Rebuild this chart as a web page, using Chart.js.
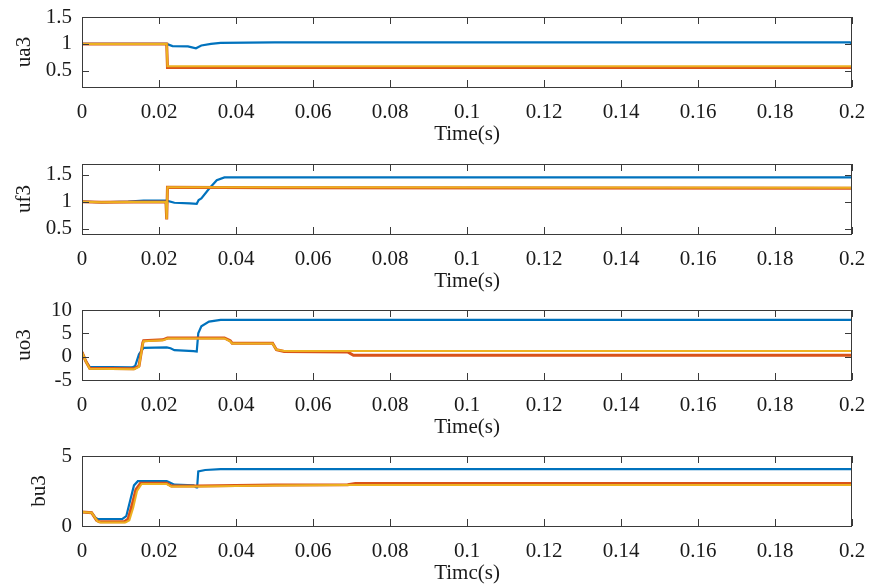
<!DOCTYPE html>
<html>
<head>
<meta charset="utf-8">
<script src="https://cdn.jsdelivr.net/npm/chart.js@4.4.1/dist/chart.umd.min.js"></script>
<style>
  body { margin: 0; background: #fff; }
  .panel { position: absolute; left: 0; width: 870px; height: 144px; }
</style>
</head>
<body>
<div class="panel" style="top:3px"><canvas id="ua3"></canvas></div>
<div class="panel" style="top:150px"><canvas id="uf3"></canvas></div>
<div class="panel" style="top:296px"><canvas id="uo3"></canvas></div>
<div class="panel" style="top:442px"><canvas id="bu3"></canvas></div>
<script>
// x axis ticks shared by every panel
const timeTicks = [0, 0.02, 0.04, 0.06, 0.08, 0.1, 0.12, 0.14, 0.16, 0.18, 0.2];

// ua3
const uaBlueT = [0, 0.022, 0.0235, 0.0275, 0.0296, 0.031, 0.0335, 0.036, 0.05, 0.1995, 0.2];
const uaBlue  = [1.0, 1.0, 0.96, 0.955, 0.92, 0.97, 1.0, 1.02, 1.03, 1.03, 1.0];
const uaRedT  = [0, 0.022, 0.0222, 0.2];
const uaRed   = [1.0, 1.0, 0.56, 0.56];
const uaYelT  = [0, 0.022, 0.0222, 0.2];
const uaYel   = [1.0, 1.0, 0.585, 0.585];
const uaTicks = [0.5, 1, 1.5];

// uf3
const ufBlueT = [0, 0.005, 0.012, 0.016, 0.022, 0.024, 0.028, 0.0298, 0.0303, 0.031, 0.033, 0.035, 0.037, 0.2];
const ufBlue  = [1.0, 0.99, 1.0, 1.02, 1.02, 0.98, 0.97, 0.96, 1.03, 1.06, 1.24, 1.4, 1.45, 1.45];
const ufRedT  = [0, 0.005, 0.0218, 0.022, 0.0222, 0.05, 0.2];
const ufRed   = [1.0, 0.99, 1.0, 0.67, 1.27, 1.26, 1.25];
const ufYelT  = [0, 0.005, 0.0218, 0.022, 0.0222, 0.05, 0.2];
const ufYel   = [1.0, 0.99, 1.0, 0.68, 1.27, 1.27, 1.26];
const ufTicks = [0.5, 1, 1.5];

// uo3
const uoBlueT = [0, 0.001, 0.002, 0.013, 0.0138, 0.0148, 0.016, 0.022, 0.023, 0.024, 0.029, 0.0298, 0.0302, 0.031, 0.033, 0.036, 0.2];
const uoBlue  = [1.0, -1.0, -2.2, -2.3, -2.0, 0.5, 1.9, 2.0, 1.8, 1.4, 1.2, 1.1, 5.0, 6.5, 7.5, 7.9, 7.9];
const uoRedT  = [0, 0.001, 0.002, 0.0135, 0.0148, 0.0158, 0.016, 0.021, 0.0222, 0.037, 0.0385, 0.039, 0.0495, 0.0505, 0.0525, 0.069, 0.0705, 0.2];
const uoRed   = [1.0, -1.0, -2.5, -2.6, -2.0, 3.0, 3.4, 3.6, 4.0, 4.0, 3.4, 2.9, 2.9, 1.5, 1.1, 1.0, 0.3, 0.3];
const uoYelT  = [0, 0.001, 0.002, 0.0135, 0.0148, 0.0158, 0.016, 0.021, 0.0222, 0.037, 0.0385, 0.039, 0.0495, 0.0505, 0.0525, 0.2];
const uoYel   = [1.0, -1.0, -2.6, -2.7, -2.2, 2.8, 3.3, 3.5, 3.9, 3.9, 3.3, 2.8, 2.8, 1.5, 1.2, 1.2];
const uoTicks = [-5, 0, 5, 10];

// bu3
const buBlueT = [0, 0.0025, 0.0035, 0.004, 0.0105, 0.0115, 0.0125, 0.0135, 0.0145, 0.022, 0.0228, 0.024, 0.029, 0.0297, 0.0299, 0.0302, 0.032, 0.036, 0.2];
const buBlue  = [1.0, 0.95, 0.6, 0.5, 0.5, 0.7, 1.8, 2.9, 3.2, 3.2, 3.1, 2.95, 2.9, 2.75, 2.75, 3.9, 4.0, 4.06, 4.06];
const buRedT  = [0, 0.0025, 0.0038, 0.0045, 0.011, 0.012, 0.013, 0.014, 0.0152, 0.022, 0.0232, 0.03, 0.05, 0.069, 0.071, 0.2];
const buRed   = [1.0, 0.95, 0.4, 0.3, 0.3, 0.5, 1.5, 2.6, 3.05, 3.05, 2.85, 2.85, 2.92, 2.95, 3.04, 3.04];
const buYelT  = [0, 0.0025, 0.004, 0.0048, 0.0113, 0.0123, 0.0133, 0.0143, 0.0155, 0.022, 0.0232, 0.03, 0.05, 0.069, 0.071, 0.2];
const buYel   = [1.0, 0.95, 0.35, 0.25, 0.25, 0.4, 1.3, 2.5, 3.0, 3.0, 2.82, 2.83, 2.9, 2.92, 2.92, 2.92];
const buTicks = [0, 5];

const BLUE = '#0072BD', RED = '#D95319', YELLOW = '#EDB120';
const FONT = { family: '"Liberation Serif", "Times New Roman", serif', size: 21 };
const INK = '#1a1a1a';

const toPoints = (t, v) => t.map((x, i) => ({ x: x, y: v[i] }));

// MATLAB style box with inward tick marks on all four sides
const boxPlugin = {
  id: 'box',
  afterDatasetsDraw(chart) {
    const { ctx, chartArea: a, scales: { x, y } } = chart;
    const len = 7;
    ctx.save();
    ctx.strokeStyle = '#3a3a3a';
    ctx.lineWidth = 1;
    ctx.beginPath();
    x.ticks.forEach(t => {
      const px = Math.round(x.getPixelForValue(t.value)) + 0.5;
      ctx.moveTo(px, a.bottom); ctx.lineTo(px, a.bottom - len);
      ctx.moveTo(px, a.top); ctx.lineTo(px, a.top + len);
    });
    y.ticks.forEach(t => {
      const py = Math.round(y.getPixelForValue(t.value)) + 0.5;
      ctx.moveTo(a.left, py); ctx.lineTo(a.left + len, py);
      ctx.moveTo(a.right, py); ctx.lineTo(a.right - len, py);
    });
    ctx.stroke();
    ctx.strokeRect(Math.round(a.left) + 0.5, Math.round(a.top) + 0.5, Math.round(a.width) - 1, Math.round(a.height));
    ctx.restore();
  }
};

function makePanel(id, series, yMin, yMax, yTicks, yTitle, yTitlePad, xTitle) {
  const sets = series.map(s => ({
    data: toPoints(s.t, s.v),
    borderColor: s.color,
    borderWidth: s.width,
    order: s.order,
    pointRadius: 0,
    tension: 0,
    fill: false
  }));
  new Chart(document.getElementById(id), {
    type: 'line',
    data: { datasets: sets },
    options: {
      responsive: true,
      maintainAspectRatio: false,
      animation: false,
      layout: { padding: { top: 14, right: 18, left: 0, bottom: 0 } },
      plugins: { legend: { display: false }, tooltip: { enabled: false } },
      scales: {
        x: {
          type: 'linear',
          min: 0,
          max: 0.2,
          grid: { display: false, drawTicks: false },
          border: { display: false },
          afterBuildTicks: s => { s.ticks = timeTicks.map(v => ({ value: v })); },
          // fixed size, and no extra room for labels hanging past the ends
          afterFit: s => { s.height = 60; s.paddingLeft = 0; s.paddingRight = 0; },
          ticks: { color: INK, font: FONT, padding: 13, maxRotation: 0, autoSkip: false, callback: v => String(v) },
          title: { display: true, text: xTitle, color: INK, font: FONT, padding: { top: 0, bottom: 0 } }
        },
        y: {
          min: yMin,
          max: yMax,
          grid: { display: false, drawTicks: false },
          border: { display: false },
          afterBuildTicks: s => { s.ticks = yTicks.map(v => ({ value: v })); },
          afterFit: s => { s.width = 82; s.paddingTop = 0; s.paddingBottom = 0; },
          ticks: { color: INK, font: FONT, padding: 10, autoSkip: false, callback: v => String(v) },
          title: { display: true, text: yTitle, color: INK, font: FONT, padding: { top: yTitlePad, bottom: 0 } }
        }
      }
    },
    plugins: [boxPlugin]
  });
}

const trio = (bt, bv, rt, rv, yt, yv) => [
  { t: bt, v: bv, color: BLUE, width: 2.2, order: 2 },
  { t: rt, v: rv, color: RED, width: 3, order: 1 },
  { t: yt, v: yv, color: YELLOW, width: 2, order: 0 }
];

makePanel('ua3', trio(uaBlueT, uaBlue, uaRedT, uaRed, uaYelT, uaYel), 0.2, 1.5, uaTicks, 'ua3', 12, 'Time(s)');
makePanel('uf3', trio(ufBlueT, ufBlue, ufRedT, ufRed, ufYelT, ufYel), 0.4, 1.7, ufTicks, 'uf3', 12, 'Time(s)');
makePanel('uo3', trio(uoBlueT, uoBlue, uoRedT, uoRed, uoYelT, uoYel), -5, 10, uoTicks, 'uo3', 12, 'Time(s)');
makePanel('bu3', trio(buBlueT, buBlue, buRedT, buRed, buYelT, buYel), 0, 5, buTicks, 'bu3', 27, 'Timc(s)');
</script>
</body>
</html>
